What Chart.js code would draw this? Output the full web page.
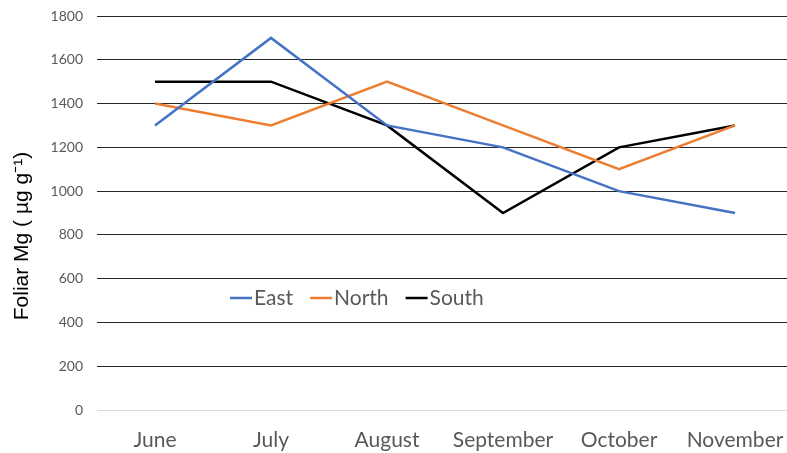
<!DOCTYPE html>
<html><head><meta charset="utf-8">
<script src="https://cdn.jsdelivr.net/npm/chart.js@4"></script>
<style>html,body{margin:0;padding:0;background:#fff;overflow:hidden;width:787px;height:453px}
#wrap{width:793px;height:453px;position:relative}</style>
</head><body>
<div id="wrap"><canvas id="c" width="793" height="453"></canvas></div>
<script>
const months = ["June","July","August","September","October","November"];
const east  = [1300,1700,1300,1200,1000,900];
const north = [1400,1300,1500,1300,1100,1300];
const south = [1500,1500,1300,900,1200,1300];
const yTicks = [0,200,400,600,800,1000,1200,1400,1600,1800];
const yTitle = "Foliar Mg ( µg g⁻¹)";
const FONT = "Lato";

const legendPlugin = {
  id:'innerLegend',
  afterDraw(chart){
    const ctx = chart.ctx, a = chart.chartArea;
    const y = a.top + 282;
    let x = a.left + 133;
    ctx.save();
    ctx.font = "21px " + FONT;
    ctx.textBaseline = 'middle';
    chart.data.datasets.forEach(ds=>{
      ctx.strokeStyle = ds.borderColor; ctx.lineWidth = 2.5;
      ctx.beginPath(); ctx.moveTo(x, y); ctx.lineTo(x+22, y); ctx.stroke();
      x += 24;
      ctx.fillStyle = '#595959';
      ctx.fillText(ds.label, x, y);
      x += ctx.measureText(ds.label).width + 17;
    });
    ctx.restore();
  }
};

const titlePlugin = {
  id:'yTitle',
  afterDraw(chart){
    const ctx = chart.ctx, a = chart.chartArea;
    ctx.save();
    ctx.translate(22, (a.top + a.bottom)/2 + 23);
    ctx.rotate(-Math.PI/2);
    ctx.font = "21px 'Liberation Sans'";
    ctx.fillStyle = '#000';
    ctx.textAlign = 'center';
    ctx.textBaseline = 'middle';
    ctx.fillText(yTitle, 0, 0);
    ctx.restore();
  }
};

new Chart(document.getElementById('c'), {
  type:'line',
  data:{labels:months, datasets:[
    {label:'East', data:east, borderColor:'#4472C4', borderWidth:2.5, pointRadius:0, tension:0, fill:false},
    {label:'North', data:north, borderColor:'#ED7D31', borderWidth:2.5, pointRadius:0, tension:0, fill:false},
    {label:'South', data:south, borderColor:'#000000', borderWidth:2.5, pointRadius:0, tension:0, fill:false}
  ]},
  options:{
    responsive:false, animation:false, devicePixelRatio:1,
    layout:{autoPadding:false, padding:{top:16,left:0,right:0,bottom:0}},
    plugins:{legend:{display:false}, tooltip:{enabled:false}},
    scales:{
      x:{
        offset:true,
        grid:{display:false, drawTicks:false},
        border:{display:false},
        ticks:{color:'#595959', font:{family:FONT, size:21}, padding:18, maxRotation:0, autoSkip:false},
        afterFit(ax){ ax.height = 43; ax.paddingLeft = 0; ax.paddingRight = 0; }
      },
      y:{
        min:0, max:1800,
        afterBuildTicks(ax){ ax.ticks = yTicks.map(v=>({value:v})); },
        grid:{drawTicks:false, color:(c)=> c.tick && c.tick.value===0 ? '#d9d9d9' : '#262626', lineWidth:1},
        border:{display:false},
        ticks:{color:'#595959', font:{family:FONT, size:14}, padding:14, callback:(v)=>String(v)},
        title:{display:false},
        afterFit(ax){ ax.width = 97; ax.paddingTop = 0; ax.paddingBottom = 0; }
      }
    }
  },
  plugins:[legendPlugin, titlePlugin]
});
</script>
</body></html>
